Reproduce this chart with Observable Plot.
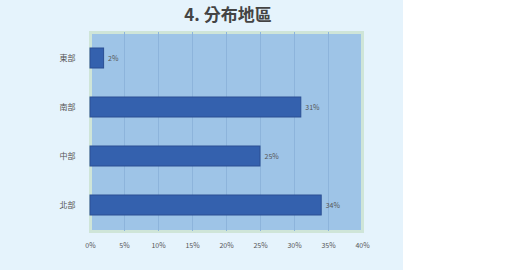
<!DOCTYPE html>
<html><head><meta charset="utf-8">
<script src="https://cdn.jsdelivr.net/npm/d3@7"></script>
<script src="https://cdn.jsdelivr.net/npm/@observablehq/plot@0.6"></script>
<style>
html,body{margin:0;padding:0;background:#ffffff;width:519px;height:274px;overflow:hidden;}
#panel{position:absolute;left:0;top:0;width:403px;height:270px;background:#e5f3fc;}
#title{position:absolute;left:0;width:456px;top:2px;line-height:24px;height:24px;text-align:center;font-family:"Noto Sans CJK TC";font-weight:bold;font-size:17px;color:#444;}
#chart{position:absolute;left:0;top:0;}
</style></head>
<body>
<div id="panel"></div>
<div id="chart"></div>
<div id="title">4. 分布地區</div>
<script>
const regions = ["東部", "南部", "中部", "北部"];
const shares = [2, 31, 25, 34];
const xTicks = [0, 5, 10, 15, 20, 25, 30, 35, 40];

const data = regions.map((r, i) => ({region: r, share: shares[i]}));

const chart = Plot.plot({
  width: 403,
  height: 262,
  marginLeft: 90,
  marginRight: 41,
  marginTop: 32,
  marginBottom: 31,
  style: {background: "transparent", fontFamily: "Noto Sans CJK TC", color: "#555"},
  x: {domain: [0, 40], ticks: xTicks, tickFormat: d => d + "%", label: null, tickSize: 0, tickPadding: 12},
  y: {domain: regions, label: null, tickSize: 0, tickPadding: 15, paddingInner: 0.6, paddingOuter: 0.3},
  marks: [
    Plot.frame({fill: "#9ec4e7", stroke: "#cfe5d8", strokeWidth: 3}),
    Plot.ruleX(xTicks.slice(1, -1), {stroke: "#8db4db", strokeWidth: 1}),
    Plot.barX(data, {x: "share", y: "region", fill: "#3461ae", stroke: "#2b4f93", strokeWidth: 1}),
    Plot.text(data, {x: "share", y: "region", text: d => d.share + "%", textAnchor: "start", dx: 4, fontSize: 7, fill: "#555"}),
    Plot.axisX({ticks: xTicks, tickFormat: d => d + "%", tickSize: 0, tickPadding: 12, fontSize: 7, label: null}),
    Plot.axisY({tickSize: 0, tickPadding: 15, fontSize: 8, label: null})
  ]
});
document.getElementById("chart").appendChild(chart);
</script>
</body></html>
